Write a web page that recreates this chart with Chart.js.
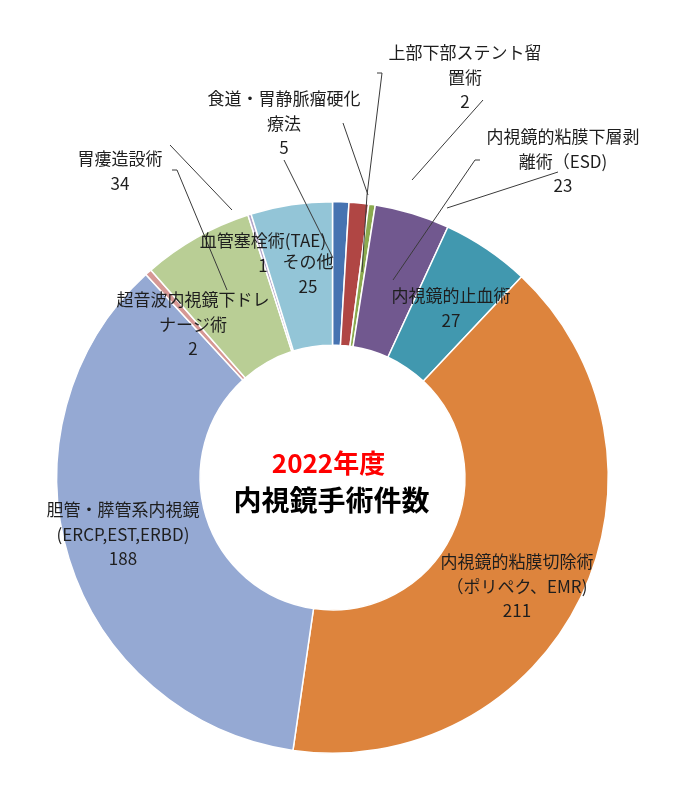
<!DOCTYPE html>
<html lang="ja">
<head>
  <meta charset="UTF-8">
  <title>2022年度 内視鏡手術件数</title>
  <script src="https://cdn.jsdelivr.net/npm/chart.js"></script>
  <style>
    body {
      margin: 0;
      background: #fff;
    }
    #pie {
      display: block;
    }
  </style>
</head>
<body>
  <canvas id="pie" width="699" height="797"></canvas>

  <script>
    // slices, clockwise from 12 o'clock
    const categories = [
      '食道・胃静脈瘤硬化療法',
      '',
      '上部下部ステント留置術',
      '内視鏡的粘膜下層剥離術（ESD)',
      '内視鏡的止血術',
      '内視鏡的粘膜切除術（ポリペク、EMR)',
      '胆管・膵管系内視鏡(ERCP,EST,ERBD)',
      '超音波内視鏡下ドレナージ術',
      '胃瘻造設術',
      '血管塞栓術(TAE)',
      'その他'
    ];
    const counts = [5, 6, 2, 23, 27, 211, 188, 2, 34, 1, 25];

    // how each label is broken into lines (value goes on the last line)
    const labelLines = [
      ['食道・胃静脈瘤硬化', '療法'],
      [],
      ['上部下部ステント留', '置術'],
      ['内視鏡的粘膜下層剥', '離術（ESD)'],
      ['内視鏡的止血術'],
      ['内視鏡的粘膜切除術', '（ポリペク、EMR)'],
      ['胆管・膵管系内視鏡', '(ERCP,EST,ERBD)'],
      ['超音波内視鏡下ドレ', 'ナージ術'],
      ['胃瘻造設術'],
      ['血管塞栓術(TAE)'],
      ['その他']
    ];

    const titleLines = ['2022年度', '内視鏡手術件数'];

    const colors = [
      '#4673B1', '#B04644', '#8BAA4F', '#71588F', '#4198AF', '#DD843D',
      '#95A9D3', '#D69895', '#B9CE95', '#B2A4C8', '#93C5D7'
    ];

    // where the label text sits (centre of first line)
    const labelAt = [
      [284, 99], null, [465, 53], [563, 137], [451, 296], [517, 562],
      [123, 510], [193, 300], [120, 159], [263, 241], [308, 262]
    ];

    // leader lines as drawn in the original
    const leaders = [
      [[170, 145], [232, 210]],
      [[172, 170], [177, 170], [227, 290]],
      [[284, 160], [333, 258]],
      [[343, 123], [368, 195]],
      [[377, 73], [382, 73], [367, 195], [362, 272]],
      [[483, 100], [412, 180]],
      [[480, 160], [475, 160], [393, 280]],
      [[558, 172], [447, 208]]
    ];

    const FONT = "'Noto Sans CJK JP', 'Noto Sans', sans-serif";

    const labelPlugin = {
      id: 'labels',
      afterDraw(chart) {
        const ctx = chart.ctx;
        ctx.save();

        // leader lines
        ctx.strokeStyle = '#3a3a3a';
        ctx.lineWidth = 1;
        leaders.forEach(pts => {
          ctx.beginPath();
          pts.forEach((p, i) => i ? ctx.lineTo(p[0], p[1]) : ctx.moveTo(p[0], p[1]));
          ctx.stroke();
        });

        // slice labels
        ctx.fillStyle = '#1e1e1e';
        ctx.textAlign = 'center';
        ctx.textBaseline = 'middle';
        ctx.font = '17px ' + FONT;
        labelLines.forEach((lines, i) => {
          if (!labelAt[i]) return;
          const [x, y] = labelAt[i];
          const all = lines.concat([String(counts[i])]);
          all.forEach((t, k) => ctx.fillText(t, x, y + k * 24.5));
        });

        // centre title
        const c = chart.getDatasetMeta(0).data[0];
        ctx.font = 'bold 26px ' + FONT;
        ctx.fillStyle = '#ff0000';
        ctx.fillText(titleLines[0], c.x - 4, 463);
        ctx.font = 'bold 28px ' + FONT;
        ctx.fillStyle = '#000';
        ctx.fillText(titleLines[1], c.x - 1, 500);

        ctx.restore();
      }
    };

    new Chart(document.getElementById('pie'), {
      type: 'doughnut',
      data: {
        labels: categories,
        datasets: [{
          data: counts,
          backgroundColor: colors,
          borderColor: '#ffffff',
          borderWidth: 1.5
        }]
      },
      options: {
        responsive: false,
        animation: false,
        cutout: '48%',
        layout: {
          padding: { left: 56, right: 90, top: 201, bottom: 43 }
        },
        plugins: {
          legend: { display: false },
          tooltip: { enabled: false }
        }
      },
      plugins: [labelPlugin]
    });
  </script>
</body>
</html>
